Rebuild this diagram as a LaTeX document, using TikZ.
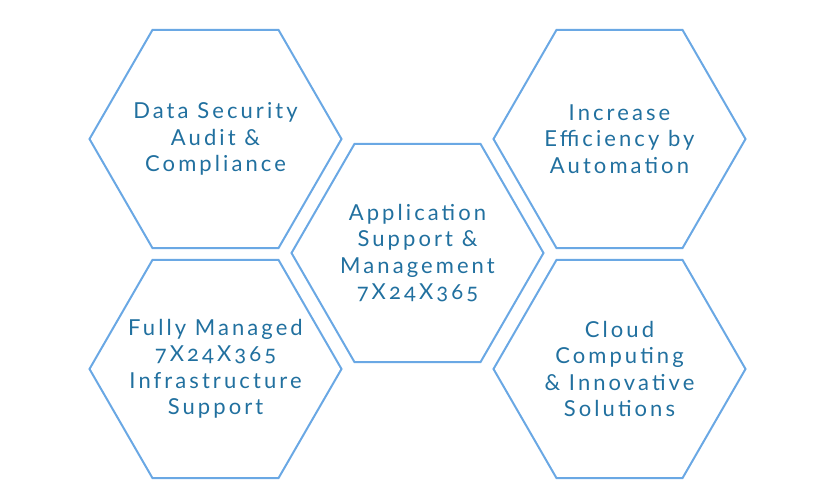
\documentclass[tikz,border=0pt]{standalone}
\usepackage{fontspec}
\setmainfont{Lato}[LetterSpace=14,Numbers=OldStyle]
\usetikzlibrary{shapes.geometric}
\definecolor{hexline}{HTML}{6AA8E4}
\definecolor{hextext}{HTML}{21709F}
\tikzset{hexa/.style={regular polygon,regular polygon sides=6,draw=hexline,line width=2pt,minimum size=252pt,inner sep=0pt},
  hexlabel/.style={align=center,text=hextext,inner sep=0pt,font=\fontsize{22pt}{26.5pt}\selectfont}}
\begin{document}
\begin{tikzpicture}[x=1pt,y=-1pt]
\useasboundingbox (0,0) rectangle (836,500);
% left column
\node[hexa] (audit) at (215.5,139) {};
\node[hexlabel] (audit-t) at (audit.center) {Data Security\\Audit \&\\Compliance};
\node[hexa] (infra) at (215.5,369) {};
\node[hexlabel] (infra-t) at (infra.center) {Fully Managed\\7X24X365\\Infrastructure\\Support};
% middle
\node[hexa] (appsup) at (417.5,253) {};
\node[hexlabel] (appsup-t) at (appsup.center) {Application\\Support \&\\Management\\7X24X365};
% right column
\node[hexa] (autom) at (619.5,139) {};
\node[hexlabel] (autom-t) at (autom.center) {Increase\\Efficiency by\\Automation};
\node[hexa] (cloud) at (619.5,369) {};
\node[hexlabel] (cloud-t) at (cloud.center) {Cloud\\Computing\\\& Innovative\\Solutions};
\end{tikzpicture}
\end{document}
